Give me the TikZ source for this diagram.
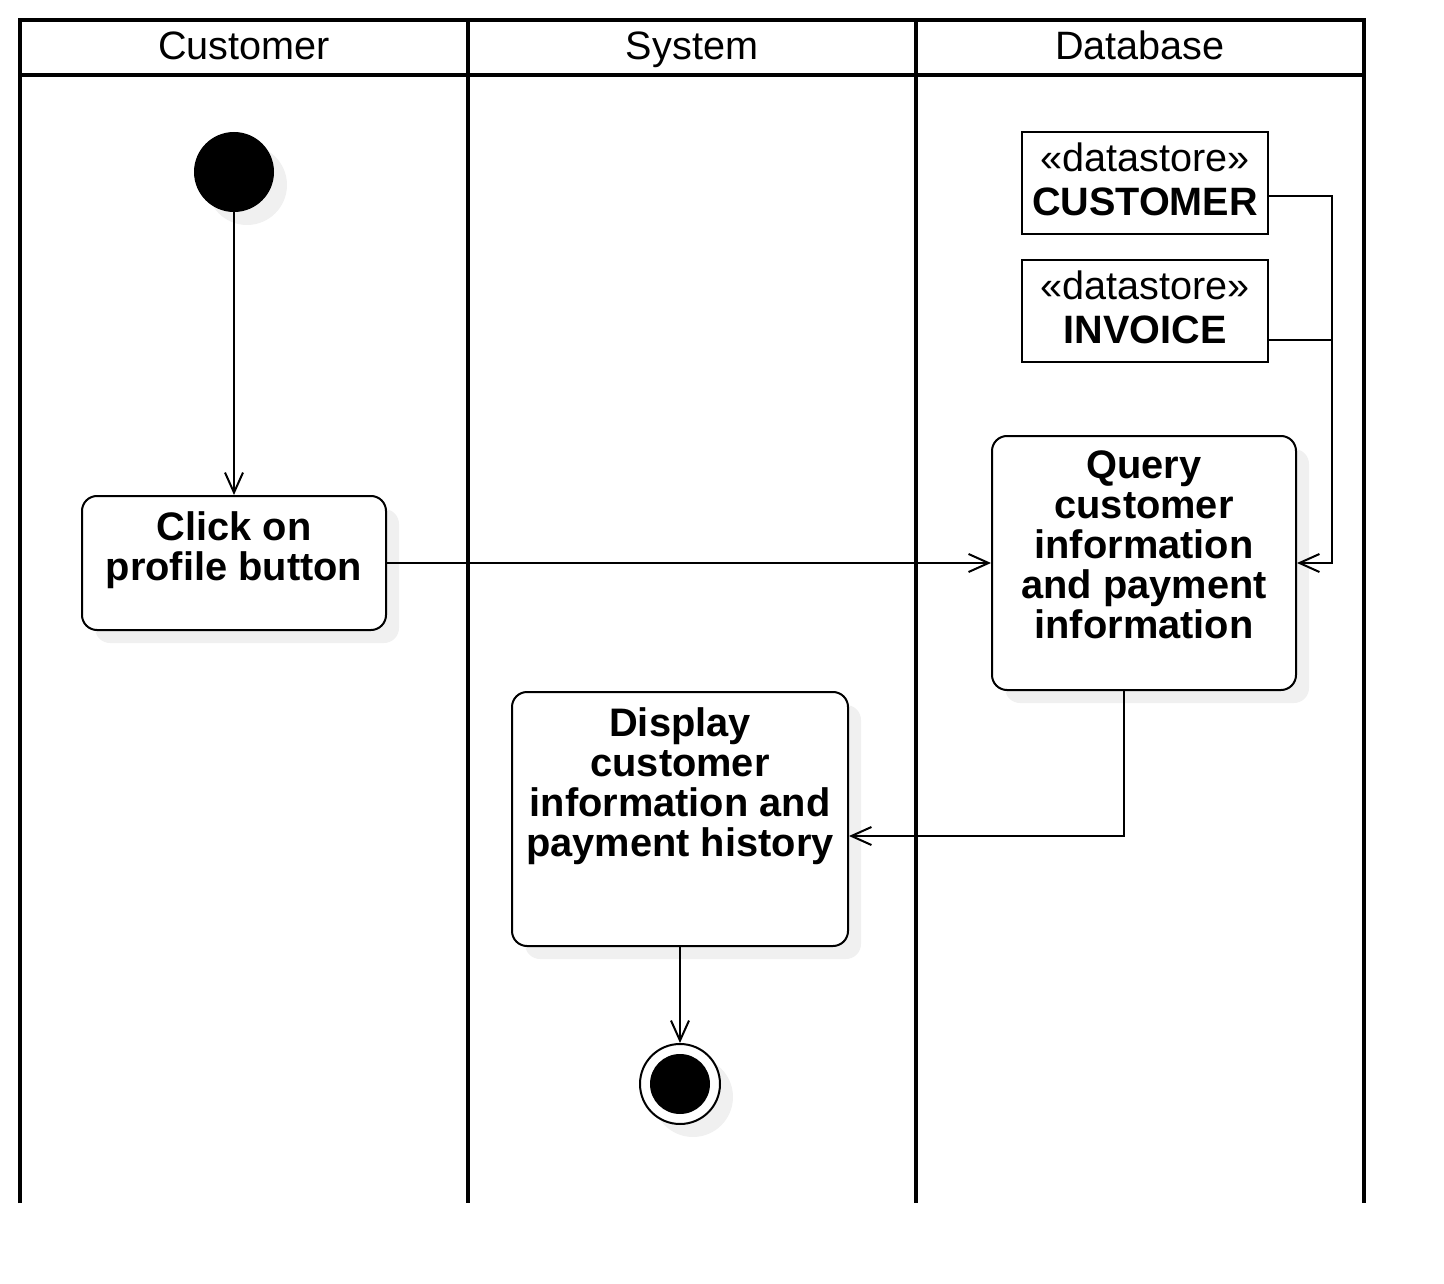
\documentclass[tikz,border=0pt]{standalone}
\usepackage{fontspec}
\setmainfont{Liberation Sans}
\usetikzlibrary{positioning}
\usetikzlibrary{arrows.meta,shadows}

\tikzset{
  lane/.style={line width=4pt},
  lanetitle/.style={anchor=base, font=\fontsize{39.6}{40}\selectfont},
  softshadow/.style={drop shadow={shadow xshift=13pt, shadow yshift=-13pt, fill=black!6, opacity=1}},
  action/.style={draw, line width=2pt, rounded corners=15pt, fill=white, softshadow, inner sep=0pt},
  acttext/.style={anchor=north, align=center, inner sep=0pt, yshift=-16pt, font=\fontsize{39.8}{40}\selectfont\bfseries},
  store/.style={draw, line width=2pt, fill=white, minimum width=246pt, minimum height=102pt, align=center, inner sep=0pt,
    text depth=8pt, font=\fontsize{39.6}{44}\selectfont},
  startdot/.style={circle, fill=black, minimum size=80pt, inner sep=0pt, softshadow},
  enddot/.style={circle, draw, line width=2pt, fill=white, minimum size=80pt, inner sep=0pt, softshadow,
    path picture={\fill[black] (path picture bounding box.center) circle (30pt);}},
  wire/.style={line width=2pt},
  flow/.style={wire, -{Straight Barb[length=20pt,width=18pt]}},
}

\begin{document}
\begin{tikzpicture}[x=1pt, y=-1pt]

    \useasboundingbox (0,0) rectangle (1444,1284);

	% swimlanes
	\draw[lane] (20,1203) -- (20,20) -- (1364,20) -- (1364,1203);
	\draw[lane] (20,75) -- (1364,75);
	\draw[lane] (468,20) -- (468,1203);
	\draw[lane] (916,20) -- (916,1203);

	\node[lanetitle] (laneCust) at (244,60) {Customer};
	\node[lanetitle] (laneSys)  at (692,60) {System};
	\node[lanetitle] (laneDb)   at (1140,60) {Database};

	% activities
	\node[startdot] (start) at (234,172) {};

	\node[action, minimum width=304pt, minimum height=134pt,
	      label={[acttext]north:Click on\\profile button}] (click) at (234,563) {};

	\node[store] (custstore) at (1145,183) {«datastore»\\\textbf{CUSTOMER}};
	\node[store] (invstore)  at (1145,311) {«datastore»\\\textbf{INVOICE}};

	\node[action, minimum width=304pt, minimum height=254pt,
	      label={[acttext]north:Query\\customer\\information\\and payment\\information}] (query) at (1144,563) {};

	\node[action, minimum width=336pt, minimum height=254pt,
	      label={[acttext]north:Display\\customer\\information and\\payment history}] (display) at (680,819) {};

	\node[enddot] (finish) at (680,1084) {};

	% bend point beside the query box
	\coordinate (bus) at (1332,563);

	% flows
	\draw[flow] (start) -- (click);
	\draw[flow] (click) -- (query);
	\draw[flow] ([yshift=-13pt]custstore.east) -| (bus) -- (query.east);
	\draw[wire] ([yshift=-29pt]invstore.east) -- +(64,0);
	\draw[flow] ([xshift=-20pt]query.south) |- ([yshift=-17pt]display.east);
	\draw[flow] (display) -- (finish);

\end{tikzpicture}
\end{document}
